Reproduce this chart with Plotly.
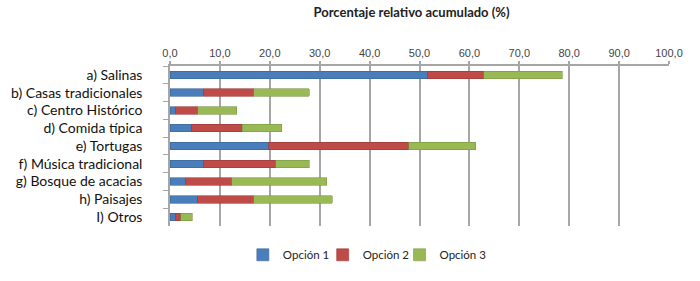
import plotly.graph_objects as go

categories = [
    "a) Salinas",
    "b) Casas tradicionales",
    "c) Centro Histórico",
    "d) Comida típica",
    "e) Tortugas",
    "f) Música tradicional",
    "g) Bosque de acacias",
    "h) Paisajes",
    "I) Otros",
]
opcion_1 = [51.6, 6.7, 1.1, 4.4, 19.8, 6.7, 3.2, 5.6, 1.1]
opcion_2 = [11.3, 10.1, 4.5, 10.1, 28.0, 14.5, 9.2, 11.2, 1.1]
opcion_3 = [15.7, 11.1, 7.8, 7.9, 13.5, 6.7, 19.0, 15.7, 2.3]
tick_vals = [0, 10, 20, 30, 40, 50, 60, 70, 80, 90, 100]

series = [
    ("Opción 1", opcion_1, "#4A7EBB", "#3A6598", "legend"),
    ("Opción 2", opcion_2, "#BE4B48", "#9A3B39", "legend2"),
    ("Opción 3", opcion_3, "#98B954", "#7A9642", "legend3"),
]

fig = go.Figure()
for name, vals, colour, edge, leg in series:
    fig.add_trace(go.Bar(
        name=name, y=categories, x=vals, orientation="h", legend=leg,
        marker={"color": colour, "line": {"color": edge, "width": 0.6}},
    ))

# one legend per series so the entries sit as close as in the original
leg_style = {
    "orientation": "h", "xref": "paper", "xanchor": "left",
    "y": -0.18, "yanchor": "middle", "bgcolor": "rgba(0,0,0,0)",
    "font": {"size": 11.5, "family": "Lato, Arial", "color": "#222222"},
}

fig.update_layout(
    barmode="stack",
    bargap=0.58,
    width=700, height=281,
    margin={"l": 170, "r": 31, "t": 66, "b": 48},
    plot_bgcolor="white",
    paper_bgcolor="white",
    separators=", ",
    font={"family": "Lato, Arial", "color": "#222222"},
    title={
        "text": "<b>Porcentaje relativo acumulado (%)</b>",
        "font": {"size": 13, "family": "Lato, Arial", "color": "#222222"},
        "xref": "paper", "x": 0.484, "xanchor": "center",
        "yref": "container", "y": 0.955, "yanchor": "middle",
    },
    legend={**leg_style, "x": 0.146},
    legend2={**leg_style, "x": 0.306},
    legend3={**leg_style, "x": 0.46},
    showlegend=True,
)
fig.update_xaxes(
    side="top", range=[0, 100], tickvals=tick_vals, tickformat=".1f",
    showgrid=True, gridcolor="#A6A6A6", gridwidth=1.5,
    showline=True, linecolor="#A6A6A6", linewidth=1.5,
    ticks="outside", ticklen=3, tickcolor="#A6A6A6", tickwidth=1.5,
    tickfont={"size": 11, "family": "Arial", "color": "#444444"},
    zeroline=False, automargin=False,
)
fig.update_yaxes(
    autorange="reversed", automargin=False,
    showline=True, linecolor="#A6A6A6", linewidth=1.5,
    ticks="outside", ticklen=5, tickcolor="#A6A6A6", tickson="boundaries",
    ticklabelstandoff=23,
    tickfont={"size": 14, "family": "Lato, Arial", "color": "#111111"},
)

# drop the page's default 8px body margin so the figure fills the window
fig.write_html(
    "out.html",
    config={"displayModeBar": False},
    post_script="document.body.style.margin = '0';",
)
